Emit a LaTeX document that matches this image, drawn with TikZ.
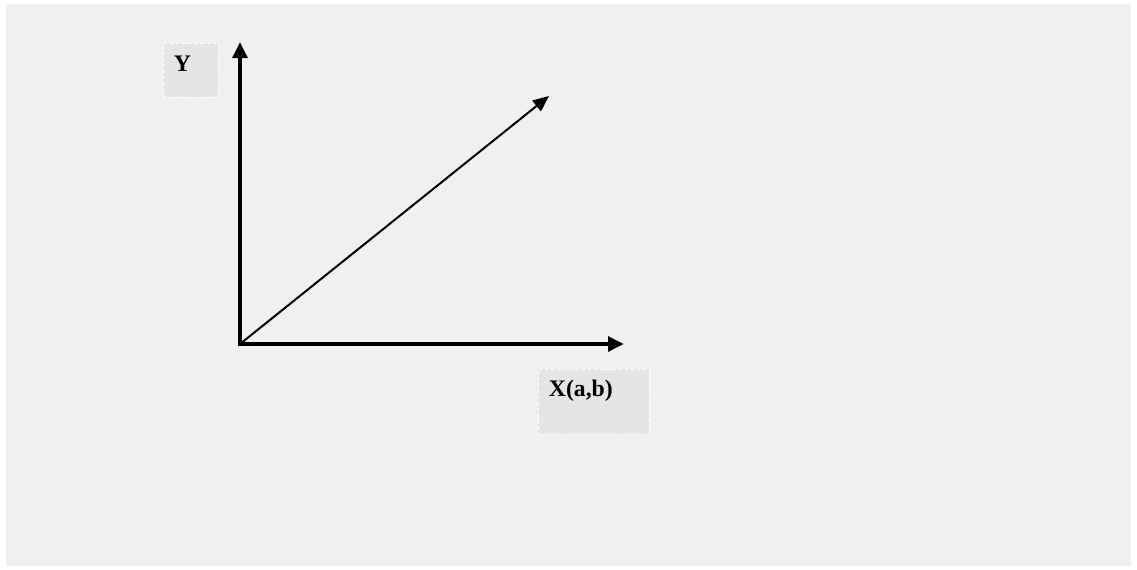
\documentclass[tikz,border=0pt]{standalone}
\usepackage{fontspec}
\setmainfont{Liberation Serif}
\usepackage{xcolor}
\usepackage{tikz}
\usetikzlibrary{arrows.meta,positioning,calc}
\definecolor{pagegray}{HTML}{F0F0F0}
\definecolor{boxgray}{HTML}{E5E5E5}

\begin{document}
\begin{tikzpicture}[
    x=0.02cm, y=-0.02cm,
    >={Triangle[length=0.32cm, width=0.29cm]},
    lblbox/.style={draw=white, dashed, dash pattern=on 2pt off 1.5pt,
                   line width=0.5pt, fill=boxgray, inner sep=0pt},
    lbl/.style={font=\fontsize{13.5}{16}\selectfont\bfseries,
                inner sep=0pt, anchor=base west},
    axis/.style={->, line width=0.08cm},
    vec/.style={->, line width=0.04cm,
                >={Triangle[length=0.32cm, width=0.27cm]}},
  ]

  % ── Canvas ──
  \useasboundingbox (0,0) rectangle (1137,569);
  \fill[white] (0,0) rectangle (1137,569);
  \fill[pagegray] (6,4) rectangle (1131,566);

  % ── Label boxes ──
  \node[lblbox, minimum width=1.1cm, minimum height=1.08cm]
    at (190.5, 70) (ybox) {};
  \node[lbl] at ([xshift=0.22cm, yshift=-0.58cm]ybox.north west) (ylbl) {Y};

  \node[lblbox, minimum width=2.22cm, minimum height=1.3cm]
    at (593.5, 401.5) (xbox) {};
  \node[lbl] at ([xshift=0.22cm, yshift=-0.56cm]xbox.north west) (xlbl)
    {X(a,b)};

  % ── Axes ──
  \coordinate (origin) at (240, 344);
  \coordinate (ytip) at (240, 42);
  \coordinate (xtip) at (624, 344);
  \coordinate (dtip) at (549, 96);

  \draw[axis] ([yshift=-0.04cm]origin) -- (ytip);
  \draw[axis] ([xshift=-0.04cm]origin) -- (xtip);

  % ── Vector from origin ──
  \draw[vec] (origin) -- (dtip);

\end{tikzpicture}
\end{document}
